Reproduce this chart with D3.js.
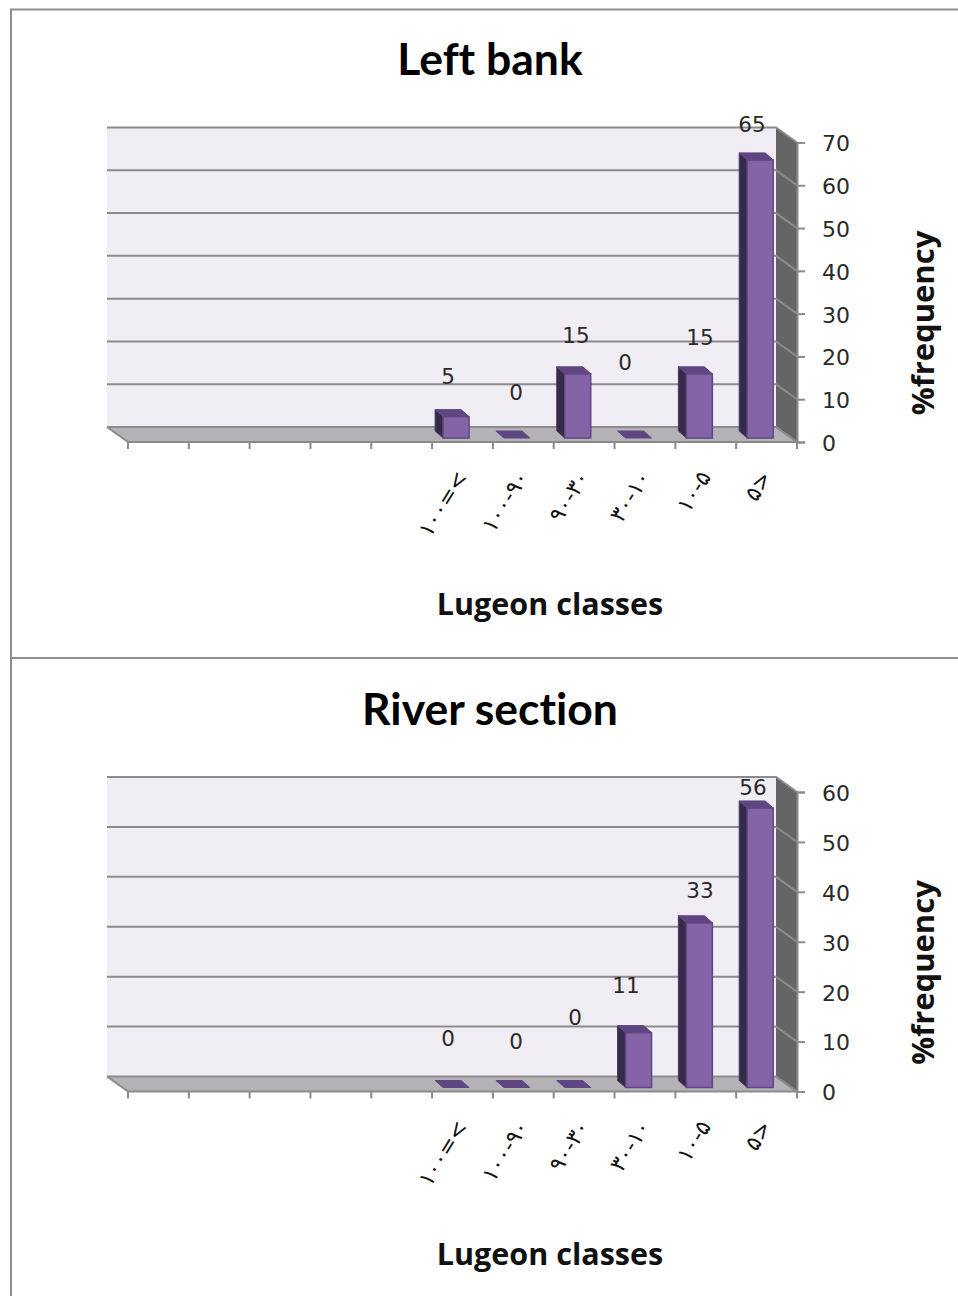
<!DOCTYPE html>
<html>
<head>
<meta charset="utf-8">
<script src="https://cdn.jsdelivr.net/npm/d3@7/dist/d3.min.js"></script>
<style>
  html, body { margin: 0; padding: 0; background: #fff; }
  svg { display: block; }
</style>
</head>
<body>
<svg id="chart" width="958" height="1296"></svg>
<script>
// Lugeon class names, widest class first; the five leading slots are empty.
const categories = ["a", "b", "c", "d", "e", "۱۰۰=<", "۱۰۰-۹۰", "۹۰-۳۰", "۳۰-۱۰", "۱۰-۵", "۵>"];

// Percent frequency per class, aligned with the last six categories.
const leftBankValues = [5, 0, 15, 0, 15, 65];
const riverSectionValues = [0, 0, 0, 11, 33, 56];

const leftBankTicks = [0, 10, 20, 30, 40, 50, 60, 70];
const riverSectionTicks = [0, 10, 20, 30, 40, 50, 60];

// Hand-placed value labels, as centre positions on the page.
const leftBankLabelPos = [[448, 376], [516, 392], [576, 335], [625, 362], [700, 337], [752, 124]];
const riverLabelPos = [[448, 1038], [516, 1041], [575, 1017], [626, 985], [700, 890], [753, 787]];

const svg = d3.select("#chart");
const FRONT_L = 128, FRONT_R = 797, DEPTH_X = 21, DEPTH_Y = 15;
const GRID = "#8b8b8b";

// Outer frames of the two stacked chart boxes.
svg.append("path")
  .attr("d", "M958,9.5H11V1296M11,658H958")
  .attr("fill", "none").attr("stroke", "#8e8e8e").attr("stroke-width", 2);

function pseudo3dChart(cfg) {
  const g = svg.append("g");
  const x = d3.scaleBand().domain(categories).range([FRONT_L, FRONT_R]);
  const y = d3.scaleLinear().domain([0, cfg.max]).range([cfg.baseY, cfg.baseY - 299.5]);
  const backX = v => v - DEPTH_X;
  const backY = v => y(v) - DEPTH_Y;
  const poly = pts => "M" + pts.map(p => p.join(",")).join("L") + "Z";

  // Back wall.
  g.append("rect")
    .attr("x", backX(FRONT_L)).attr("y", backY(cfg.max))
    .attr("width", FRONT_R - FRONT_L).attr("height", y(0) - y(cfg.max))
    .attr("fill", "#f0eef4");

  // Right side wall.
  g.append("path")
    .attr("d", poly([[backX(FRONT_R), backY(cfg.max)], [FRONT_R, y(cfg.max)], [FRONT_R, y(0)], [backX(FRONT_R), backY(0)]]))
    .attr("fill", "#656565");

  // Floor.
  g.append("path")
    .attr("d", poly([[backX(FRONT_L), backY(0)], [backX(FRONT_R), backY(0)], [FRONT_R, y(0)], [FRONT_L, y(0)]]))
    .attr("fill", "#b4b2b6");

  // Gridlines: across the back wall, then diagonally down the side wall.
  g.selectAll(".grid").data(cfg.ticks).join("path")
    .attr("class", "grid")
    .attr("d", t => `M${backX(FRONT_L)},${backY(t)}H${backX(FRONT_R)}L${FRONT_R},${y(t)}`)
    .attr("fill", "none").attr("stroke", GRID).attr("stroke-width", 2);

  // Front edge of the floor with its class ticks.
  const edges = categories.map(c => x(c)).concat([FRONT_R]);
  g.append("path")
    .attr("d", `M${FRONT_L},${y(0)}H${FRONT_R}L${backX(FRONT_L) + FRONT_R - FRONT_L},${backY(0)}M${FRONT_L},${y(0)}L${backX(FRONT_L)},${backY(0)}`)
    .attr("fill", "none").attr("stroke", GRID).attr("stroke-width", 2);
  g.selectAll(".xtick").data(edges).join("line")
    .attr("class", "xtick")
    .attr("x1", d => d).attr("x2", d => d)
    .attr("y1", y(0)).attr("y2", y(0) + 7)
    .attr("stroke", GRID).attr("stroke-width", 2);

  // Value axis on the front right corner.
  const axis = d3.axisRight(y).tickValues(cfg.ticks).tickSize(8).tickPadding(17).tickFormat(d3.format("d"));
  const ax = g.append("g").attr("transform", `translate(${FRONT_R},0)`).call(axis);
  ax.select(".domain").attr("stroke", GRID).attr("stroke-width", 2);
  ax.selectAll("line").attr("stroke", GRID).attr("stroke-width", 2);
  ax.selectAll("text")
    .attr("dy", "0.38em")
    .attr("font-family", "DejaVu Sans").attr("font-size", 22).attr("fill", "#2a2a2a");

  // Bars: front face, shaded left side and top cap.
  const shownCats = categories.slice(5);
  const rows = cfg.values.map((v, i) => ({ c: shownCats[i], v, i }));
  const BAR_IN = 11, BAR_W = 26, BAR_DX = 8, BAR_DY = 7, LIFT = 4;
  const bars = g.selectAll(".bar").data(rows).join("g").attr("class", "bar");
  bars.each(function (d) {
    const s = d3.select(this);
    const l = x(d.c) + BAR_IN, r = l + BAR_W;
    const b = y(0) - LIFT, t = y(d.v) - LIFT;
    if (d.v > 0) {
      s.append("path")
        .attr("d", poly([[l - BAR_DX, t - BAR_DY], [l, t], [l, b], [l - BAR_DX, b - BAR_DY]]))
        .attr("fill", "#372a49").attr("stroke", "#4a3a66").attr("stroke-width", 1);
      s.append("rect")
        .attr("x", l).attr("y", t).attr("width", BAR_W).attr("height", b - t)
        .attr("fill", "#8464a6").attr("stroke", "#5f4684").attr("stroke-width", 1.5);
    }
    s.append("path")
      .attr("d", poly([[l - BAR_DX, t - BAR_DY], [r - BAR_DX, t - BAR_DY], [r, t], [l, t]]))
      .attr("fill", "#5f4682").attr("stroke", "#5f4684").attr("stroke-width", 1);
  });

  // Value labels.
  g.selectAll(".val").data(rows).join("text")
    .attr("class", "val")
    .attr("x", d => cfg.labelPos[d.i][0]).attr("y", d => cfg.labelPos[d.i][1])
    .attr("dy", "0.36em").attr("text-anchor", "middle")
    .attr("font-family", "DejaVu Sans").attr("font-size", 21.5).attr("fill", "#2a2a2a")
    .text(d => d.v);

  // Slanted class names under the axis, Persian digits in logical left-to-right order.
  g.selectAll(".cat").data(shownCats).join("text")
    .attr("class", "cat")
    .attr("transform", c => `translate(${x(c) + x.bandwidth() / 2 + 6},${y(0) + 35}) rotate(-58)`)
    .attr("text-anchor", "end")
    .attr("direction", "ltr").style("unicode-bidi", "bidi-override")
    .attr("font-family", "DejaVu Sans").attr("font-size", 22).attr("letter-spacing", 4.5).attr("fill", "#111")
    .text(c => c);

  // Titles.
  g.append("text").attr("x", 490).attr("y", cfg.baseY - 367)
    .attr("text-anchor", "middle").attr("font-family", "Lato").attr("font-weight", 700)
    .attr("font-size", 44.5).style("font-variant-ligatures", "none").attr("fill", "#000").text(cfg.title);
  g.append("text").attr("x", 550).attr("y", cfg.baseY + 173)
    .attr("text-anchor", "middle").attr("font-family", "Open Sans").attr("font-weight", 700)
    .attr("font-size", 30.5).attr("fill", "#111").text("Lugeon classes");
  g.append("text")
    .attr("transform", `translate(934,${cfg.baseY - 119}) rotate(-90)`)
    .attr("text-anchor", "middle").attr("font-family", "Open Sans").attr("font-weight", 700)
    .attr("font-size", 31).attr("fill", "#111").text("%frequency");
}

pseudo3dChart({ title: "Left bank", values: leftBankValues, ticks: leftBankTicks, max: 70, baseY: 442, labelPos: leftBankLabelPos });
pseudo3dChart({ title: "River section", values: riverSectionValues, ticks: riverSectionTicks, max: 60, baseY: 1091.5, labelPos: riverLabelPos });
</script>
</body>
</html>
